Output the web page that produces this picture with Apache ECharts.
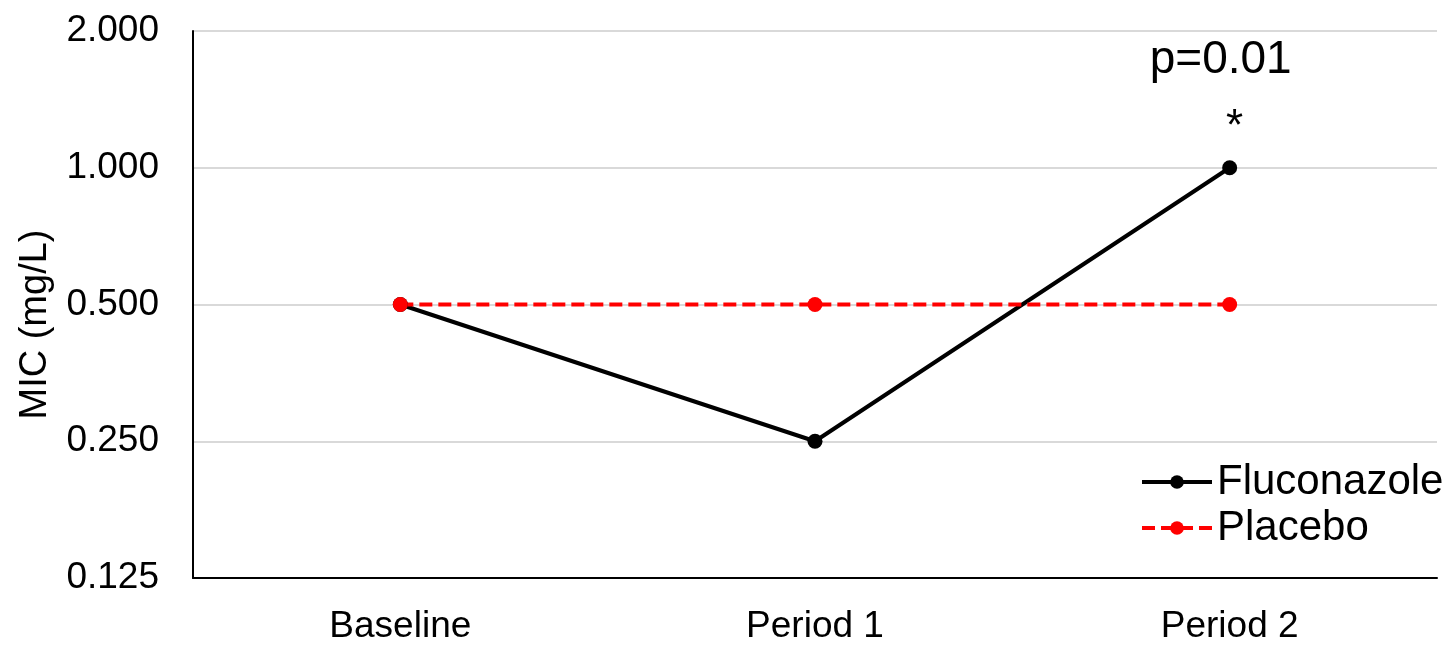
<!DOCTYPE html>
<html>
<head>
<meta charset="utf-8">
<title>MIC by period</title>
<script src="https://cdn.jsdelivr.net/npm/echarts@6/dist/echarts.min.js"></script>
<style>
  html, body { margin: 0; padding: 0; background: #ffffff; overflow: hidden; }
  #chart { width: 100vw; height: 100vh; }
</style>
</head>
<body>
<div id="chart"></div>
<script>
// Visits along the x axis
const periods = ['Baseline', 'Period 1', 'Period 2'];
// MIC values (mg/L) for each arm
const fluconazole = [0.5, 0.25, 1];
const placebo = [0.5, 0.5, 0.5];
// Log2 axis range
const micMin = 0.125;
const micMax = 2;
// Significance note on the last fluconazole visit
const pNote = 'p=0.01';
const sigMark = '*';

const FONT = '"Liberation Sans", Arial, sans-serif';

const fluData = fluconazole.map((v, i) => {
  if (i !== fluconazole.length - 1) return v;
  return {
    value: v,
    label: {
      show: true,
      position: 'top',
      distance: 1,
      formatter: '{p|' + pNote + '}\n{s|' + sigMark + '}',
      rich: {
        p: { fontFamily: FONT, fontSize: 46, color: '#000', lineHeight: 56, padding: [0, 18, 18, 0] },
        s: { fontFamily: FONT, fontSize: 44, color: '#000', lineHeight: 62, padding: [0, 0, 0, 10] }
      }
    }
  };
});

const chart = echarts.init(document.getElementById('chart'));
chart.setOption({
  animation: false,
  backgroundColor: '#ffffff',
  grid: { left: 193, right: 14, top: 31, bottom: 61, containLabel: false },
  legend: {
    orient: 'vertical',
    left: 1140,
    top: 461,
    padding: 0,
    itemWidth: 70,
    itemHeight: 17,
    itemGap: 4,
    lineStyle: { width: 4 },
    textStyle: { fontFamily: FONT, fontSize: 42, color: '#000', lineHeight: 42 },
    data: ['Fluconazole', 'Placebo']
  },
  xAxis: {
    type: 'category',
    data: periods,
    boundaryGap: true,
    axisLine: { lineStyle: { color: '#000', width: 2 } },
    axisTick: { show: false },
    axisLabel: { fontFamily: FONT, fontSize: 37, color: '#000', margin: 30 }
  },
  yAxis: {
    type: 'log',
    logBase: 2,
    min: micMin,
    max: micMax,
    name: 'MIC (mg/L)',
    nameLocation: 'middle',
    nameGap: 138,
    nameTextStyle: { fontFamily: FONT, fontSize: 38, color: '#000', padding: [0, 40, 0, 0] },
    axisLine: { show: true, lineStyle: { color: '#000', width: 2 } },
    axisTick: { show: false },
    splitLine: { lineStyle: { color: '#d9d9d9', width: 2 } },
    axisLabel: {
      fontFamily: FONT, fontSize: 37, color: '#000', margin: 34,
      formatter: v => Number(v).toFixed(3)
    }
  },
  series: [
    {
      name: 'Fluconazole',
      type: 'line',
      data: fluData,
      symbol: 'circle',
      symbolSize: 15,
      lineStyle: { color: '#000', width: 4 },
      itemStyle: { color: '#000' }
    },
    {
      name: 'Placebo',
      type: 'line',
      data: placebo,
      symbol: 'circle',
      symbolSize: 15,
      lineStyle: { color: '#ff0000', width: 4, type: [13, 6] },
      itemStyle: { color: '#ff0000' }
    }
  ]
});
</script>
</body>
</html>
